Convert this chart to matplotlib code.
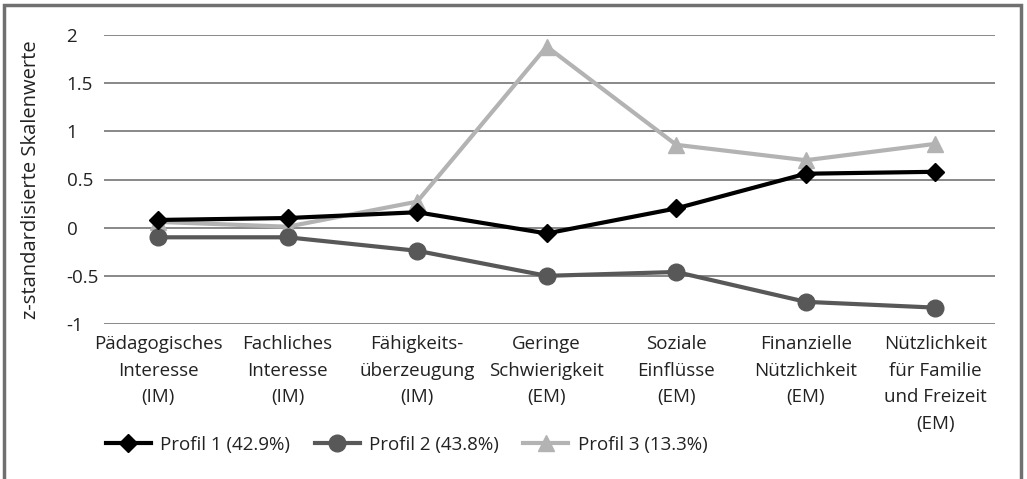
import matplotlib.pyplot as plt
import numpy as np
from matplotlib.patches import Rectangle

plt.rcParams['font.family'] = ['Open Sans', 'DejaVu Sans']

categories = ["Pädagogisches\nInteresse\n(IM)", "Fachliches\nInteresse\n(IM)",
              "Fähigkeits-\nüberzeugung\n(IM)", "Geringe\nSchwierigkeit\n(EM)",
              "Soziale\nEinflüsse\n(EM)", "Finanzielle\nNützlichkeit\n(EM)",
              "Nützlichkeit\nfür Familie\nund Freizeit\n(EM)"]
profil1 = [0.08, 0.10, 0.16, -0.06, 0.20, 0.56, 0.58]
profil2 = [-0.10, -0.10, -0.24, -0.50, -0.46, -0.77, -0.83]
profil3 = [0.06, 0.01, 0.27, 1.88, 0.86, 0.70, 0.87]
labels = ["Profil 1 (42.9%)", "Profil 2 (43.8%)", "Profil 3 (13.3%)"]
yticks = [-1, -0.5, 0, 0.5, 1, 1.5, 2]
ytick_labels = ["-1", "-0.5", "0", "0.5", "1", "1.5", "2"]

W, H = 1027, 479
fig = plt.figure(figsize=(W / 100, H / 100), dpi=100)
ax = fig.add_axes([104 / W, 1 - 324 / H, (995 - 104) / W, (324 - 35) / H])

x = np.arange(len(categories))
ax.plot(x, profil1, color='black', lw=3, marker='D', ms=9.5, label=labels[0], zorder=5)
ax.plot(x, profil2, color='#585858', lw=3, marker='o', ms=12, label=labels[1], zorder=4)
ax.plot(x, profil3, color='#b3b3b3', lw=3, marker='^', ms=12, label=labels[2], zorder=3)

ax.set_xlim(-0.417, 6.46)
ax.set_ylim(-1, 2)
ax.set_yticks(yticks)
ax.set_yticklabels(ytick_labels, fontsize=13.5, color='#222222')
for t in ax.get_yticklabels():
    t.set_horizontalalignment('left')
ax.tick_params(axis='y', length=0, pad=27)
ax.set_xticks(x)
ax.set_xticklabels(categories, fontsize=13.5, color='#222222', linespacing=1.62)
ax.tick_params(axis='x', length=0, pad=8)
ax.grid(axis='y', color='#7f7f7f', lw=1.3)
ax.set_axisbelow(True)
for s in ax.spines.values():
    s.set_visible(False)

ax.set_ylabel("z-standardisierte Skalenwerte", fontsize=14.5, color='#222222')
ax.yaxis.set_label_coords((41 - 104) / (995 - 104), 0.5)

fig.legend(loc='center left', bbox_to_anchor=(89 / W, 1 - 445 / H), ncol=3,
           frameon=False, fontsize=13.5, handlelength=2.4, columnspacing=1.3,
           handletextpad=0.5, labelcolor='#222222')

fig.patches.append(Rectangle((4 / W, -0.1), (1021 - 4) / W, 1.1 - 5 / H,
                             transform=fig.transFigure, fill=False,
                             edgecolor='#707070', lw=2.5))

fig.savefig('out.png', dpi=100)
